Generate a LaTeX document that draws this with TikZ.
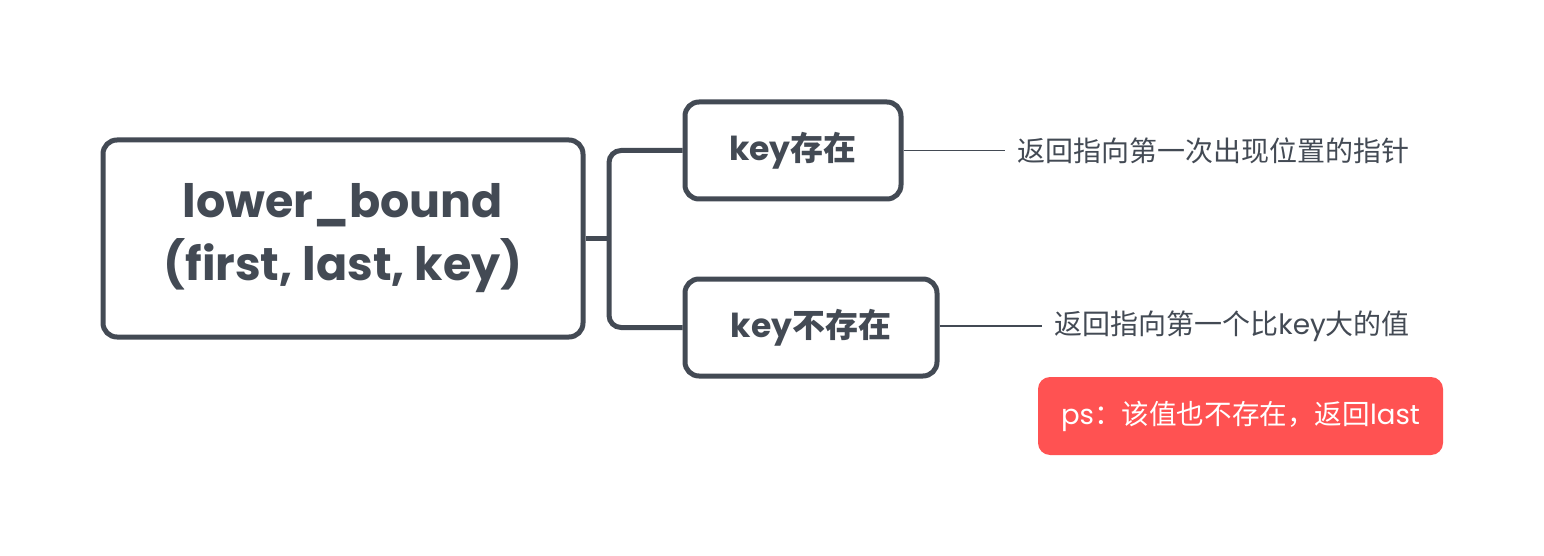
\documentclass[tikz,border=0pt]{standalone}
\usepackage{fontspec}
\setmainfont{Poppins}
\newfontfamily\cjk{Noto Sans CJK SC}
\begin{document}
\begin{tikzpicture}[x=0.5pt,y=-0.5pt]
\definecolor{ink}{HTML}{434A54}
\definecolor{redbg}{HTML}{FF5252}
\tikzset{
  mainbox/.style={draw=ink, line width=2.5pt, rounded corners=7pt, text=ink, align=center, inner sep=0pt},
  subbox/.style={draw=ink, line width=2.5pt, rounded corners=7pt, text=ink, inner sep=0pt, minimum height=48.5pt, font=\fontsize{16.5}{19}\selectfont\bfseries},
  conn/.style={draw=ink, line width=2.5pt, rounded corners=6pt},
  thin/.style={draw=ink, line width=0.75pt},
  note/.style={text=ink, anchor=west, inner sep=6pt, font=\fontsize{14}{16}\selectfont\cjk},
  redbox/.style={fill=redbg, rounded corners=6pt, text=white, inner sep=0pt, minimum width=202.5pt, minimum height=39pt, font=\fontsize{13.8}{16}\selectfont}
}
\useasboundingbox (0,0) rectangle (1544,556);
\node[mainbox, minimum width=240pt, minimum height=98.5pt, font=\fontsize{23}{31.5}\selectfont\bfseries] (main) at (343,238.5) {lower\_bound\\(first, last, key)};
\node[subbox, minimum width=108pt] (b1) at (793,150.5) {key{\cjk 存在}};
\node[subbox, minimum width=126pt] (b2) at (811,327.5) {key{\cjk 不存在}};
\coordinate (j) at (609,238.5);
\draw[conn] (main.east) -- (j);
\draw[conn] (b1.west) -| (j) |- (b2.west);
\node[note] (t1) at (1005,150.5) {返回指向第一次出现位置的指针};
\node[note] (t2) at (1042,326) {返回指向第一个比{\fontspec{Poppins}key}大的值};
\draw[thin] (b1.east) -- (t1.west);
\draw[thin] (b2.east |- t2.west) -- (t2.west);
\node[redbox] (ps) at (1240.5,416) {ps{\cjk ：该值也不存在，返回}last};
\end{tikzpicture}
\end{document}
